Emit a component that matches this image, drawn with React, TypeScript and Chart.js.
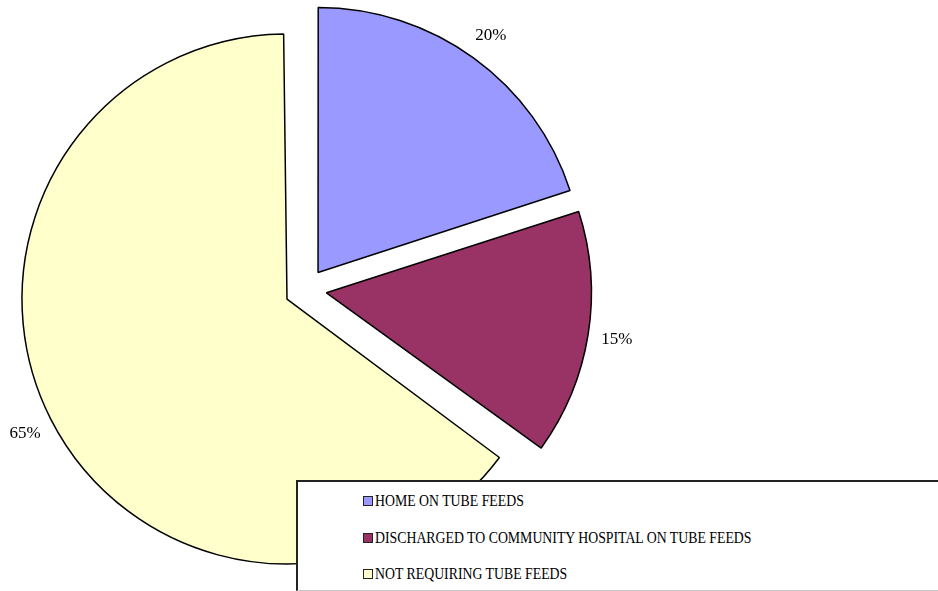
import React, { useEffect, useRef } from "react";
import { Chart, registerables } from "chart.js";

Chart.register(...registerables);

const categories = [
  "HOME ON TUBE FEEDS",
  "DISCHARGED TO COMMUNITY HOSPITAL ON TUBE FEEDS",
  "NOT REQUIRING TUBE FEEDS",
];
const values = [20, 15, 65];
const valueLabels = ["20%", "15%", "65%"];
const colors = ["#9999FF", "#993366", "#FFFFCC"];

const EXPLODE = 21; // visual explosion distance in px
const RADIUS = 265;
const LABEL_GAP = 29;

// Chart.js enlarges an offset arc's radius by (offset/4)*(1 - sin(min(PI, circ)));
// compensate so every exploded slice keeps the same visible radius.
const equalRadiusPlugin = {
  id: "equalRadius",
  beforeDatasetsDraw(chart: any) {
    const meta = chart.getDatasetMeta(0);
    meta.data.forEach((arc: any) => {
      const circ = arc.endAngle - arc.startAngle;
      const fix = 1 - Math.sin(Math.min(Math.PI, circ));
      arc.outerRadius = RADIUS - EXPLODE * fix;
    });
  },
};

const labelPlugin = {
  id: "pctLabels",
  afterDatasetsDraw(chart: any) {
    const ctx = chart.ctx;
    const meta = chart.getDatasetMeta(0);
    ctx.save();
    ctx.font = '17px "Liberation Serif", "Times New Roman", serif';
    ctx.fillStyle = "#000";
    ctx.textAlign = "center";
    ctx.textBaseline = "middle";
    meta.data.forEach((arc: any, i: number) => {
      const mid = (arc.startAngle + arc.endAngle) / 2;
      const d = EXPLODE + RADIUS + LABEL_GAP;
      ctx.fillText(valueLabels[i], arc.x + Math.cos(mid) * d, arc.y + Math.sin(mid) * d + 1);
    });
    ctx.restore();
  },
};

export default function App() {
  const ref = useRef<HTMLCanvasElement | null>(null);

  useEffect(() => {
    if (!ref.current) return;
    const chart = new Chart(ref.current, {
      type: "pie",
      data: {
        labels: categories,
        datasets: [
          {
            data: values,
            backgroundColor: colors,
            borderColor: "#000",
            borderWidth: 1.5,
            offset: EXPLODE * 4,
          },
        ],
      },
      options: {
        responsive: false,
        animation: false,
        radius: RADIUS,
        layout: { padding: { left: 0, right: 326.6, top: 0, bottom: 12 } },
        plugins: {
          legend: { display: false },
          tooltip: { enabled: false },
        },
        events: [],
      } as any,
      plugins: [equalRadiusPlugin, labelPlugin],
    });
    return () => chart.destroy();
  }, []);

  const rowCenters = [501, 538, 574];

  return (
    <div
      style={{
        position: "fixed",
        left: 0,
        top: 0,
        width: 938,
        height: 591,
        overflow: "hidden",
        background: "#fff",
      }}
    >
      <canvas
        ref={ref}
        width={938}
        height={591}
        style={{ position: "absolute", left: 0, top: 0, width: 938, height: 591 }}
      />
      <div
        style={{
          position: "absolute",
          left: 296,
          top: 480,
          width: 700,
          height: 108,
          background: "#fff",
          borderTop: "2px solid #222",
          borderLeft: "2px solid #222",
          borderBottom: "1px solid #c8c8c8",
        }}
      />
      {categories.map((c, i) => (
        <React.Fragment key={c}>
          <div
            style={{
              position: "absolute",
              left: 363,
              top: rowCenters[i] - 5,
              width: 8,
              height: 8,
              background: colors[i],
              border: "1.5px solid #222",
            }}
          />
          <div
            style={{
              position: "absolute",
              left: 375,
              top: rowCenters[i] - 10,
              height: 20,
              lineHeight: "20px",
              whiteSpace: "nowrap",
              fontFamily: '"Liberation Serif", "Times New Roman", serif',
              fontSize: 16.5,
              color: "#000",
              transform: "scaleX(0.836)",
              transformOrigin: "left center",
            }}
          >
            {c}
          </div>
        </React.Fragment>
      ))}
    </div>
  );
}
